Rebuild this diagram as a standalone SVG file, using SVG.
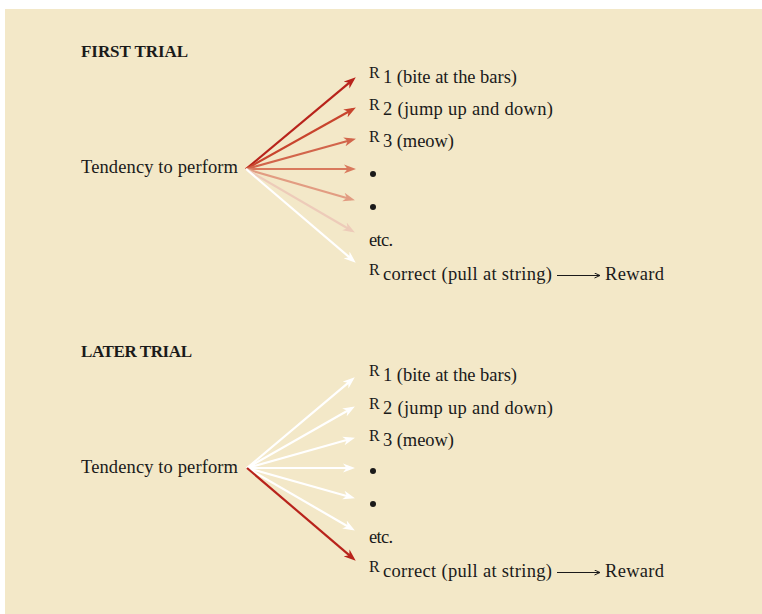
<svg xmlns="http://www.w3.org/2000/svg" width="762" height="614" viewBox="0 0 762 614">
<style>
text{font-family:"Liberation Serif","Times New Roman",serif;fill:#1a1a1a;}
.h{font-size:17px;font-weight:bold;}
.t{font-size:18.5px;}
.r{font-size:18.5px;}
.s{font-size:16px;}
.a{stroke-width:2.2;fill:none;}
.sm{stroke:#1a1a1a;stroke-width:1;fill:none;}
</style>
<defs>
<marker id="m1" markerUnits="userSpaceOnUse" markerWidth="12" markerHeight="10" refX="8" refY="5" orient="auto"><path d="M0,0.5 L12,5 L0,9.5 L3.5,5 Z" fill="#b8231b"/></marker>
<marker id="m2" markerUnits="userSpaceOnUse" markerWidth="12" markerHeight="10" refX="8" refY="5" orient="auto"><path d="M0,0.5 L12,5 L0,9.5 L3.5,5 Z" fill="#c8442d"/></marker>
<marker id="m3" markerUnits="userSpaceOnUse" markerWidth="12" markerHeight="10" refX="8" refY="5" orient="auto"><path d="M0,0.5 L12,5 L0,9.5 L3.5,5 Z" fill="#d2654b"/></marker>
<marker id="m4" markerUnits="userSpaceOnUse" markerWidth="12" markerHeight="10" refX="8" refY="5" orient="auto"><path d="M0,0.5 L12,5 L0,9.5 L3.5,5 Z" fill="#d9795d"/></marker>
<marker id="m5" markerUnits="userSpaceOnUse" markerWidth="12" markerHeight="10" refX="8" refY="5" orient="auto"><path d="M0,0.5 L12,5 L0,9.5 L3.5,5 Z" fill="#e29c82"/></marker>
<marker id="m6" markerUnits="userSpaceOnUse" markerWidth="12" markerHeight="10" refX="8" refY="5" orient="auto"><path d="M0,0.5 L12,5 L0,9.5 L3.5,5 Z" fill="#edcbb9"/></marker>
<marker id="mw" markerUnits="userSpaceOnUse" markerWidth="12" markerHeight="10" refX="8" refY="5" orient="auto"><path d="M0,0.5 L12,5 L0,9.5 L3.5,5 Z" fill="#ffffff"/></marker>
<marker id="ms" markerUnits="userSpaceOnUse" markerWidth="7" markerHeight="6" refX="6" refY="3" orient="auto"><path d="M0.5,0.5 L6,3 L0.5,5.5" fill="none" stroke="#1a1a1a" stroke-width="1"/></marker>
</defs>
<rect x="5" y="9" width="757" height="605" fill="#f3e8c8"/>

<g id="first-trial">
<text class="h" x="81" y="57" textLength="107">FIRST TRIAL</text>
<g id="tendency-1"><text class="t" x="81" y="173" textLength="157">Tendency to perform</text></g>
<g id="r1-1"><text class="s" x="369" y="78">R</text><text class="r" x="383" y="83" textLength="134">1 (bite at the bars)</text></g>
<g id="r2-1"><text class="s" x="369" y="110">R</text><text class="r" x="383" y="115" textLength="170">2 (jump up and down)</text></g>
<g id="r3-1"><text class="s" x="369" y="142">R</text><text class="r" x="383" y="147" textLength="71">3 (meow)</text></g>
<g id="dot1-1"><circle cx="373" cy="174" r="3" fill="#1a1a1a"/></g>
<g id="dot2-1"><circle cx="373" cy="207" r="3" fill="#1a1a1a"/></g>
<g id="etc-1"><text class="r" x="369" y="246" textLength="24">etc.</text></g>
<g id="rc-1"><text class="s" x="369" y="275">R</text><text class="r" x="383" y="280" textLength="169">correct (pull at string)</text></g>
<g id="reward-1"><text class="r" x="605" y="280" textLength="59">Reward</text></g>
</g>

<g id="later-trial">
<text class="h" x="81" y="357" textLength="111">LATER TRIAL</text>
<g id="tendency-2"><text class="t" x="81" y="473" textLength="157">Tendency to perform</text></g>
<g id="r1-2"><text class="s" x="369" y="376">R</text><text class="r" x="383" y="381" textLength="134">1 (bite at the bars)</text></g>
<g id="r2-2"><text class="s" x="369" y="409">R</text><text class="r" x="383" y="414" textLength="170">2 (jump up and down)</text></g>
<g id="r3-2"><text class="s" x="369" y="441">R</text><text class="r" x="383" y="446" textLength="71">3 (meow)</text></g>
<g id="dot1-2"><circle cx="373" cy="471" r="3" fill="#1a1a1a"/></g>
<g id="dot2-2"><circle cx="373" cy="504" r="3" fill="#1a1a1a"/></g>
<g id="etc-2"><text class="r" x="369" y="543" textLength="24">etc.</text></g>
<g id="rc-2"><text class="s" x="369" y="572">R</text><text class="r" x="383" y="577" textLength="169">correct (pull at string)</text></g>
<g id="reward-2"><text class="r" x="605" y="577" textLength="59">Reward</text></g>
</g>

<g id="connectors">
<line class="a" x1="246" y1="169" x2="352.7" y2="79.9" stroke="#b8231b" marker-end="url(#m1)"/>
<line class="a" x1="246" y1="169" x2="352.4" y2="109.5" stroke="#c8442d" marker-end="url(#m2)"/>
<line class="a" x1="246" y1="169" x2="352.1" y2="139.8" stroke="#d2654b" marker-end="url(#m3)"/>
<line class="a" x1="246" y1="169" x2="352" y2="169" stroke="#d9795d" marker-end="url(#m4)"/>
<line class="a" x1="246" y1="169" x2="351.1" y2="199.2" stroke="#e29c82" marker-end="url(#m5)"/>
<line class="a" x1="246" y1="169" x2="351.4" y2="230.5" stroke="#edcbb9" marker-end="url(#m6)"/>
<line class="a" x1="246" y1="169" x2="352.7" y2="260.1" stroke="#ffffff" marker-end="url(#mw)"/>
<line class="sm" x1="557" y1="275.5" x2="600" y2="275.5" marker-end="url(#ms)"/>

<line class="a" x1="247" y1="468" x2="351.7" y2="379.9" stroke="#ffffff" marker-end="url(#mw)"/>
<line class="a" x1="247" y1="468" x2="351.4" y2="408.5" stroke="#ffffff" marker-end="url(#mw)"/>
<line class="a" x1="247" y1="468" x2="351.1" y2="438.8" stroke="#ffffff" marker-end="url(#mw)"/>
<line class="a" x1="247" y1="468" x2="351" y2="468" stroke="#ffffff" marker-end="url(#mw)"/>
<line class="a" x1="247" y1="468" x2="351.1" y2="497.2" stroke="#ffffff" marker-end="url(#mw)"/>
<line class="a" x1="247" y1="468" x2="351.4" y2="528.5" stroke="#ffffff" marker-end="url(#mw)"/>
<line class="a" x1="247" y1="468" x2="352.7" y2="558.1" stroke="#b8231b" marker-end="url(#m1)"/>
<line class="sm" x1="557" y1="572.5" x2="600" y2="572.5" marker-end="url(#ms)"/>
</g>
</svg>
